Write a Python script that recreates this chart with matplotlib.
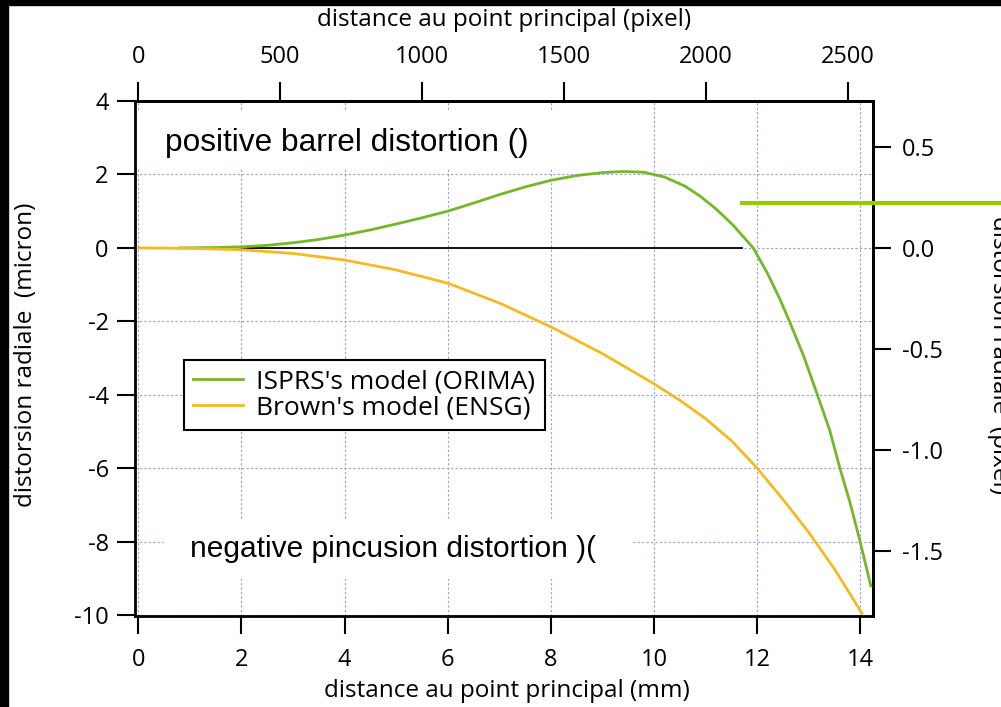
import numpy as np
import matplotlib
matplotlib.use('Agg')
import matplotlib.pyplot as plt
from matplotlib.patches import Rectangle

# distance au point principal (mm) / distorsion radiale (micron)
isprs_x = [0.8, 1.5, 2, 2.5, 3, 3.5, 4, 4.5, 5, 5.5, 6, 6.5, 7, 7.5, 8, 8.5,
           9, 9.4, 9.8, 10.2, 10.6, 10.9, 11.2, 11.53, 11.92, 12.2, 12.44,
           12.63, 12.9, 13.16, 13.4, 13.6, 13.8, 13.99, 14.2]
isprs_y = [0, 0.01, 0.03, 0.07, 0.14, 0.23, 0.35, 0.49, 0.65, 0.82, 1.0,
           1.22, 1.45, 1.66, 1.84, 1.97, 2.05, 2.08, 2.06, 1.93, 1.68, 1.4,
           1.06, 0.62, 0, -0.7, -1.4, -2.02, -2.95, -3.98, -4.95, -5.99,
           -6.95, -7.98, -9.2]
brown_x = [0, 1, 2, 3, 4, 5, 6, 7, 8, 9, 10, 10.5, 11, 11.5, 12, 12.5, 13,
           13.5, 14.03]
brown_y = [0, -0.01, -0.05, -0.15, -0.33, -0.6, -0.96, -1.5, -2.15, -2.88,
           -3.7, -4.15, -4.65, -5.25, -6.0, -6.85, -7.75, -8.75, -9.95]
zero_x = [2, 11.7]
zero_y = [0, 0]
mark_x = [11.7, 20]
mark_y = [1.23, 1.23]

pix_size = 0.0055  # mm per pixel (micron -> pixel : /5.5)

x_ticks = [0, 2, 4, 6, 8, 10, 12, 14]
y_ticks = [4, 2, 0, -2, -4, -6, -8, -10]
px_ticks = [0, 500, 1000, 1500, 2000, 2500]
py_ticks = [0.5, 0.0, -0.5, -1.0, -1.5]

plt.rcParams['font.family'] = ['Open Sans', 'DejaVu Sans']
plt.rcParams['axes.unicode_minus'] = False
fs = 17
lfs = 17.5

fig = plt.figure(figsize=(10.01, 7.07), dpi=100)
ax = fig.add_axes([0.135, 0.1287, 0.737, 0.7285])

# black border strips at left / top
fig.patches.append(Rectangle((0, 0), 8 / 1001, 1, transform=fig.transFigure,
                             color='black', zorder=-10))
fig.patches.append(Rectangle((0, 1 - 5 / 707), 1, 5 / 707, transform=fig.transFigure,
                             color='black', zorder=-10))

ax.set_xlim(-0.06, 14.24)
ax.set_ylim(-10.02, 4)
ax.set_xticks(x_ticks)
ax.set_yticks(y_ticks)
ax.grid(True, linestyle=(0, (2, 2)), color='#9b9bdc', linewidth=0.8)
ax.set_axisbelow(True)

ax.plot(zero_x, zero_y, color='black', lw=1.3, zorder=2)
ax.plot(isprs_x, isprs_y, color='#74b828', lw=2, label="ISPRS's model (ORIMA)", zorder=3)
ax.plot(brown_x, brown_y, color='#f5b922', lw=2, label="Brown's model (ENSG)", zorder=3)
ax.plot(mark_x, mark_y, color='#99cc00', lw=3, clip_on=False, zorder=4)

# white boxes behind the annotations
ax.add_patch(Rectangle((0.0, 2.15), 8.45, 1.58, facecolor='white', edgecolor='none', zorder=1))
ax.add_patch(Rectangle((0.5, -9.0), 9.05, 1.58, facecolor='white', edgecolor='none', zorder=1))
ax.text(0.52, 2.86, 'positive barrel distortion ()', fontsize=22.8,
        family='Liberation Sans', va='center', ha='left', zorder=5)
ax.text(1.0, -8.2, 'negative pincusion distortion )(', fontsize=21.5,
        family='Liberation Sans', va='center', ha='left', zorder=5)

for s in ax.spines.values():
    s.set_linewidth(2)
ax.tick_params(direction='out', length=13, width=1.5, labelsize=fs)
ax.tick_params(axis='x', pad=10)
ax.tick_params(axis='y', pad=6)

top = ax.secondary_xaxis('top', functions=(lambda v: v / pix_size, lambda v: v * pix_size))
top.set_xticks(px_ticks)
top.tick_params(direction='out', length=14, width=1.5, labelsize=fs, pad=9)
top.spines['top'].set_linewidth(2)

right = ax.secondary_yaxis('right', functions=(lambda v: v / 5.5, lambda v: v * 5.5))
right.set_yticks(py_ticks)
right.set_yticklabels(['%.1f' % v for v in py_ticks])
right.tick_params(direction='out', length=13, width=1.5, labelsize=fs, pad=8)
right.spines['right'].set_linewidth(2)

leg = ax.legend(loc='upper left', bbox_to_anchor=(0.066, 0.497), borderaxespad=0,
                fontsize=19, fancybox=False, edgecolor='black', framealpha=1,
                handlelength=1.9, handletextpad=0.5, borderpad=0.35, labelspacing=0.05)
leg.get_frame().set_linewidth(1.5)

fig.text(0.504, 0.972, 'distance au point principal (pixel)', fontsize=lfs, ha='center', va='center')
fig.text(0.506, 0.023, 'distance au point principal (mm)', fontsize=lfs, ha='center', va='center')
fig.text(0.026, 0.498, 'distorsion radiale  (micron)', fontsize=lfs, rotation=90,
         ha='center', va='center')
fig.text(0.998, 0.498, 'distorsion radiale  (pixel)', fontsize=lfs, rotation=-90,
         ha='center', va='center')

plt.savefig('out.png', dpi=100)
